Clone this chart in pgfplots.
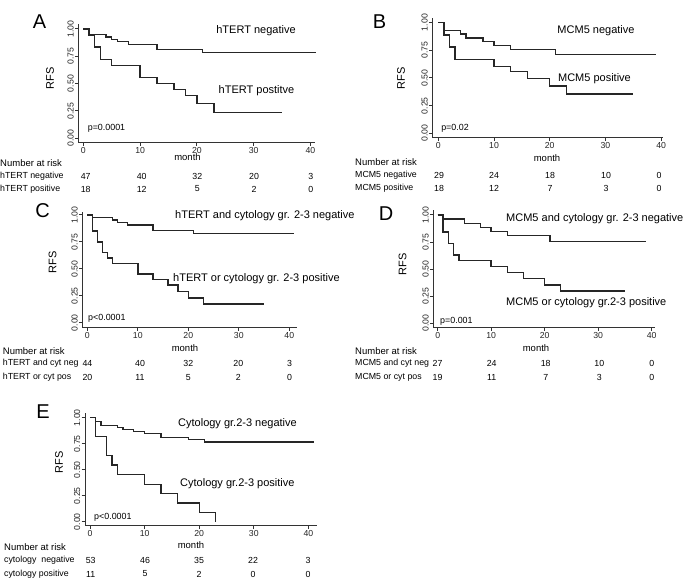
\documentclass[border=0pt]{standalone}
\usepackage{fontspec}
\setmainfont{Liberation Sans}
\usepackage{pgfplots}
\pgfplotsset{compat=1.18}
\newcommand{\lab}{\fontsize{11}{13}\selectfont}
\newcommand{\tk}{\fontsize{8.7}{10}\selectfont}
\newcommand{\rk}{\fontsize{8.8}{10}\selectfont}
\newcommand{\nr}{\fontsize{9.5}{11}\selectfont}
\newcommand{\pv}{\fontsize{8.9}{10}\selectfont}
\newcommand{\pletter}{\fontsize{20}{22}\selectfont}
\pgfplotsset{
 km/.style={
  anchor=south west, scale only axis, clip=false,
  axis lines=left, axis line style={-, line width=1pt, draw=black!80},
  tick align=outside, major tick length=3.5pt,
  tick style={line width=1pt, black!80},
  xtick={0,10,20,30,40}, ytick={0,0.25,0.5,0.75,1},
  /pgf/number format/assume math mode=true,
  yticklabel style={rotate=90, anchor=south, inner sep=1pt, font=\tk, black!85,
    /pgf/number format/fixed, /pgf/number format/fixed zerofill, /pgf/number format/precision=2},
  xticklabel style={inner sep=1pt, font=\tk, black!85},
 },
 kml/.style={const plot, mark=none, line width=1.45pt, black!85},
}
\begin{document}
\begin{tikzpicture}[x=1pt,y=1pt]
\useasboundingbox (0,0) rectangle (685,-587);
% ---------------- A
\begin{axis}[km, at={(78.3pt,-142.3pt)}, x=5.68pt, y=109.3pt,
  xmin=-0.88, xmax=40.8, ymin=-0.037, ymax=1.043]
\addplot[kml] coordinates {(0,1) (1,0.947) (4,0.925) (5,0.905) (6,0.885) (8,0.86) (13,0.81) (21,0.785) (41,0.785)};
\addplot[kml] coordinates {(0,1) (1,0.944) (2,0.833) (3,0.722) (5,0.667) (10,0.556) (13,0.50) (16,0.444) (18,0.392) (20,0.318) (23,0.236) (35,0.236)};
\end{axis}
\node[font=\pletter] at (39.5,-22) {A};
\node[font=\lab, rotate=90] at (50,-78) {RFS};
\node[font=\nr] at (187.5,-157.5) {month};
\node[font=\lab] at (256,-31) {hTERT negative};
\node[font=\lab] at (256.5,-90.5) {hTERT postitve};
\node[font=\pv] at (106.5,-128.5) {p=0.0001};
\node[font=\nr, anchor=west, inner sep=0pt] at (0,-163) {Number at risk};
\node[font=\rk, anchor=west, inner sep=0pt] at (0,-176) {hTERT negative};
\node[font=\rk, anchor=west, inner sep=0pt] at (0,-189) {hTERT positive};
\foreach \x/\a/\b in {85.7/47/18, 141.7/40/12, 197.3/32/5, 254/20/2, 310.7/3/0} {
  \node[font=\rk] at (\x,-176) {\a};
  \node[font=\rk] at (\x,-189) {\b};
}
% ---------------- B
\begin{axis}[km, at={(432.3pt,-137.3pt)}, x=5.57pt, y=110.7pt,
  xmin=-1.08, xmax=40.4, ymin=-0.036, ymax=1.039]
\addplot[kml] coordinates {(0,1) (1,0.931) (4,0.897) (5,0.862) (8,0.828) (10,0.793) (13,0.755) (21,0.71) (39,0.71)};
\addplot[kml] coordinates {(0,1) (1,0.889) (2,0.778) (3,0.667) (10,0.606) (13,0.556) (16,0.497) (20,0.427) (23,0.355) (35,0.355)};
\end{axis}
\node[font=\pletter] at (379.5,-21.5) {B};
\node[font=\lab, rotate=90] at (401,-78) {RFS};
\node[font=\nr] at (547,-158) {month};
\node[font=\lab] at (596,-31) {MCM5 negative};
\node[font=\lab] at (594.5,-79) {MCM5 positive};
\node[font=\pv] at (455,-128) {p=0.02};
\node[font=\nr, anchor=west, inner sep=0pt] at (355,-162) {Number at risk};
\node[font=\rk, anchor=west, inner sep=0pt] at (355,-175) {MCM5 negative};
\node[font=\rk, anchor=west, inner sep=0pt] at (355,-188.5) {MCM5 positive};
\foreach \x/\a/\b in {439/29/18, 494/24/12, 550/18/7, 606/10/3, 659/0/0} {
  \node[font=\rk] at (\x,-175) {\a};
  \node[font=\rk] at (\x,-188.5) {\b};
}
% ---------------- C
\begin{axis}[km, at={(82.3pt,-327.3pt)}, x=5.05pt, y=107.7pt,
  xmin=-0.99, xmax=41.5, ymin=-0.043, ymax=1.03]
\addplot[kml] coordinates {(0,1) (1,0.977) (5,0.953) (6,0.93) (8,0.905) (13,0.855) (21,0.826) (41,0.826)};
\addplot[kml] coordinates {(0,1) (1,0.85) (2,0.75) (3,0.65) (4,0.60) (5,0.55) (10,0.45) (13,0.40) (16,0.35) (18,0.29) (20,0.23) (23,0.175) (35,0.175)};
\end{axis}
\node[font=\pletter] at (42.5,-211) {C};
\node[font=\lab, rotate=90] at (52.5,-262.5) {RFS};
\node[font=\nr] at (185,-348) {month};
\node[font=\lab, anchor=west, inner sep=0pt] at (175,-216) {hTERT and cytology gr. 2-3 negative};
\node[font=\lab, anchor=west, inner sep=0pt] at (173,-279) {hTERT or cytology gr. 2-3 positive};
\node[font=\pv, anchor=west, inner sep=0pt] at (88,-318) {p<0.0001};
\node[font=\nr, anchor=west, inner sep=0pt] at (2.7,-350.7) {Number at risk};
\node[font=\rk, anchor=west, inner sep=0pt] at (2.7,-363.5) {hTERT and cyt neg};
\node[font=\rk, anchor=west, inner sep=0pt] at (2.7,-377.7) {hTERT or cyt pos};
\foreach \x/\a/\b in {87.5/44/20, 140/40/11, 188.3/32/5, 238.3/20/2, 289.5/3/0} {
  \node[font=\rk] at (\x,-363.5) {\a};
  \node[font=\rk] at (\x,-377.7) {\b};
}
% ---------------- D
\begin{axis}[km, at={(433.3pt,-327.3pt)}, x=5.35pt, y=108.3pt,
  xmin=-0.82, xmax=40.6, ymin=-0.037, ymax=1.046]
\addplot[kml] coordinates {(0,1) (1,0.963) (5,0.923) (8,0.886) (10,0.846) (13,0.81) (21,0.757) (39,0.757)};
\addplot[kml] coordinates {(0,1) (1,0.842) (2,0.737) (3,0.632) (4,0.579) (10,0.523) (13,0.47) (16,0.415) (20,0.354) (23,0.298) (35,0.298)};
\end{axis}
\node[font=\pletter] at (386,-213.5) {D};
\node[font=\lab, rotate=90] at (402.5,-264) {RFS};
\node[font=\nr] at (536,-348) {month};
\node[font=\lab, anchor=west, inner sep=0pt] at (506,-219) {MCM5 and cytology gr. 2-3 negative};
\node[font=\lab, anchor=west, inner sep=0pt] at (506,-302.5) {MCM5 or cytology gr.2-3 positive};
\node[font=\pv, anchor=west, inner sep=0pt] at (440,-321) {p=0.001};
\node[font=\nr, anchor=west, inner sep=0pt] at (355,-350.7) {Number at risk};
\node[font=\rk, anchor=west, inner sep=0pt] at (355,-363.5) {MCM5 and cyt neg};
\node[font=\rk, anchor=west, inner sep=0pt] at (355,-377.7) {MCM5 or cyt pos};
\foreach \x/\a/\b in {437.5/27/19, 491.7/24/11, 545.7/18/7, 599.3/10/3, 651.7/0/0} {
  \node[font=\rk] at (\x,-363.5) {\a};
  \node[font=\rk] at (\x,-377.7) {\b};
}
% ---------------- E
\begin{axis}[km, at={(85pt,-525.7pt)}, x=5.46pt, y=104pt,
  xmin=-0.92, xmax=41.5, ymin=-0.038, ymax=1.042]
\addplot[kml] coordinates {(0,1) (1,0.962) (2,0.925) (5,0.905) (6,0.887) (8,0.868) (10,0.85) (13,0.81) (18,0.79) (21,0.766) (41,0.766)};
\addplot[kml] coordinates {(0,1) (1,0.818) (3,0.636) (4,0.545) (5,0.455) (10,0.36) (13,0.273) (16,0.182) (20,0.091) (23,0)};
\end{axis}
\node[font=\pletter] at (43,-412) {E};
\node[font=\lab, rotate=90] at (59,-462) {RFS};
\node[font=\nr] at (191,-545) {month};
\node[font=\lab, anchor=west, inner sep=0pt] at (178,-424) {Cytology gr.2-3 negative};
\node[font=\lab, anchor=west, inner sep=0pt] at (180,-484) {Cytology gr.2-3 positive};
\node[font=\pv, anchor=west, inner sep=0pt] at (94,-517) {p<0.0001};
\node[font=\nr, anchor=west, inner sep=0pt] at (4,-546.7) {Number at risk};
\node[font=\rk, anchor=west, inner sep=0pt] at (4,-560) {cytology\ \ negative};
\node[font=\rk, anchor=west, inner sep=0pt] at (4,-574) {cytology positive};
\foreach \x/\a/\b in {90.7/53/11, 145/46/5, 199/35/2, 253/22/0, 308/3/0} {
  \node[font=\rk] at (\x,-560) {\a};
  \node[font=\rk] at (\x,-574) {\b};
}
\end{tikzpicture}
\end{document}
